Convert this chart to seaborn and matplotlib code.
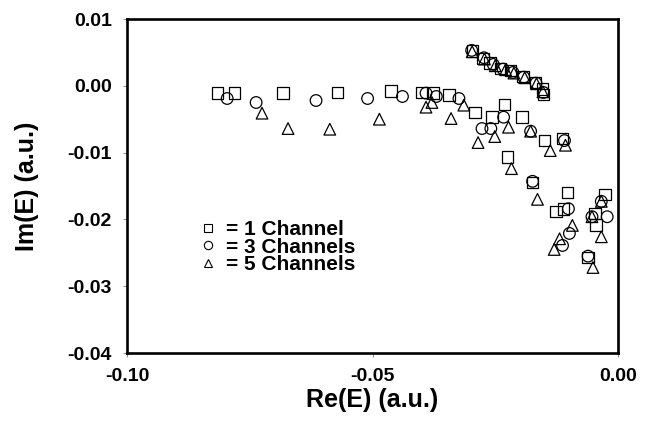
import numpy as np
import pandas as pd
import matplotlib
matplotlib.use("Agg")
import matplotlib.pyplot as plt
from matplotlib.lines import Line2D
import seaborn as sns

# values: Re(E), Im(E)
re_1ch = [-0.0816, -0.0781, -0.0682, -0.0571, -0.0462, -0.0399, -0.0377, -0.0344,
          -0.0291, -0.0231, -0.0257, -0.0196, -0.0150, -0.0113, -0.0225, -0.0174,
          -0.0103, -0.0126, -0.0111, -0.0026, -0.0047, -0.0045, -0.0061,
          -0.0296, -0.0275, -0.0261, -0.0239, -0.0219, -0.0194, -0.0168, -0.0154, -0.0152]
im_1ch = [-0.0011, -0.0011, -0.0011, -0.0010, -0.0008, -0.0010, -0.0011, -0.0014,
          -0.0040, -0.0028, -0.0047, -0.0047, -0.0082, -0.0079, -0.0107, -0.0145,
          -0.0160, -0.0188, -0.0184, -0.0163, -0.0191, -0.0208, -0.0257,
          0.0052, 0.0041, 0.0034, 0.0026, 0.0023, 0.0014, 0.0005, -0.0005, -0.0013]

re_3ch = [-0.0796, -0.0737, -0.0615, -0.0510, -0.0439, -0.0391, -0.0370, -0.0324,
          -0.0233, -0.0277, -0.0259, -0.0178, -0.0109, -0.0174, -0.0101, -0.0099,
          -0.0113, -0.0034, -0.0053, -0.0022, -0.0061,
          -0.0298, -0.0273, -0.0254, -0.0234, -0.0214, -0.0192, -0.0167, -0.0152]
im_3ch = [-0.0019, -0.0025, -0.0022, -0.0019, -0.0016, -0.0011, -0.0016, -0.0019,
          -0.0047, -0.0064, -0.0064, -0.0068, -0.0082, -0.0143, -0.0184, -0.0221,
          -0.0239, -0.0173, -0.0196, -0.0196, -0.0255,
          0.0053, 0.0042, 0.0032, 0.0025, 0.0020, 0.0013, 0.0004, -0.0010]

re_5ch = [-0.0725, -0.0672, -0.0587, -0.0486, -0.0391, -0.0379, -0.0340, -0.0314,
          -0.0285, -0.0251, -0.0223, -0.0178, -0.0138, -0.0107, -0.0217, -0.0164,
          -0.0093, -0.0119, -0.0130, -0.0034, -0.0053, -0.0034, -0.0051,
          -0.0297, -0.0272, -0.0250, -0.0229, -0.0212, -0.0190, -0.0166, -0.0153]
im_5ch = [-0.0041, -0.0064, -0.0065, -0.0050, -0.0032, -0.0025, -0.0049, -0.0029,
          -0.0085, -0.0076, -0.0062, -0.0068, -0.0097, -0.0089, -0.0124, -0.0170,
          -0.0209, -0.0229, -0.0245, -0.0173, -0.0196, -0.0226, -0.0272,
          0.0051, 0.0040, 0.0030, 0.0024, 0.0019, 0.0012, 0.0003, -0.0009]

labels = ["1 Channel", "3 Channels", "5 Channels"]
markers = {"1 Channel": "s", "3 Channels": "o", "5 Channels": "^"}

df = pd.concat([
    pd.DataFrame({"re": re_1ch, "im": im_1ch, "run": labels[0]}),
    pd.DataFrame({"re": re_3ch, "im": im_3ch, "run": labels[1]}),
    pd.DataFrame({"re": re_5ch, "im": im_5ch, "run": labels[2]}),
])

sns.set_style("white")
plt.rcParams["font.family"] = ["Liberation Sans", "DejaVu Sans"]
plt.rcParams["font.weight"] = "bold"
plt.rcParams["text.color"] = "k"

fig = plt.figure(figsize=(6.47, 4.21), dpi=100)
ax = fig.add_axes([127 / 647, 1 - 353 / 421, 491 / 647, 334 / 421])

for lab in labels:
    sub = df[df["run"] == lab]
    sns.scatterplot(data=sub, x="re", y="im", marker=markers[lab], s=70,
                    color="k", ax=ax, legend=False, zorder=3)
for coll in ax.collections:
    coll.set_facecolor("none")
    coll.set_edgecolor("k")
    coll.set_linewidth(0.9)

ax.set_xlim(-0.10, 0.0)
ax.set_ylim(-0.04, 0.01)
ax.set_xticks([-0.10, -0.05, 0.00])
ax.set_yticks([0.01, 0.00, -0.01, -0.02, -0.03, -0.04])
ax.set_xticklabels(["-0.10", "-0.05", "0.00"])
ax.set_yticklabels(["0.01", "0.00", "-0.01", "-0.02", "-0.03", "-0.04"])
ax.tick_params(direction="out", length=3, width=0.6, color="#777777",
               labelcolor="k", labelsize=14, pad=8, bottom=True, left=True)
for lbl in ax.get_xticklabels() + ax.get_yticklabels():
    lbl.set_fontweight("bold")
for sp in ax.spines.values():
    sp.set_linewidth(1.9)
    sp.set_color("k")

ax.set_xlabel("Re(E) (a.u.)", fontsize=18, fontweight="bold", color="k", labelpad=2)
ax.set_ylabel("Im(E) (a.u.)", fontsize=18, fontweight="bold", color="k")
ax.yaxis.set_label_coords(-0.18, 0.5)

handles = [Line2D([], [], linestyle="none", marker=markers[l], markersize=6,
                  markerfacecolor="none", markeredgecolor="k", markeredgewidth=0.8)
           for l in labels]
leg = ax.legend(handles, ["= " + l for l in labels], loc="center left",
                bbox_to_anchor=(0.115, 0.317), frameon=False, handlelength=0.6,
                handletextpad=0.55, labelspacing=-0.06, borderpad=0.4,
                prop={"size": 15, "weight": "bold"})
for t in leg.get_texts():
    t.set_color("k")

fig.savefig("out.png", dpi=100)
